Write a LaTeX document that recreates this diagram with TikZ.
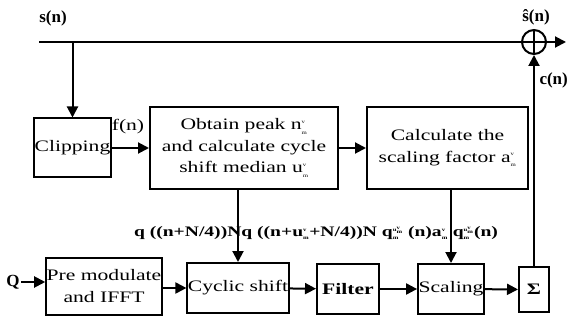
\documentclass[tikz,border=0pt]{standalone}
\usepackage{fontspec}
\setmainfont{Liberation Serif}[FakeStretch=1.35]
\newfontfamily\lblfont{Liberation Serif}
\usetikzlibrary{arrows.meta}
\newcommand{\ms}[2]{\ensuremath{_{\mbox{\tiny #1}}^{\mbox{\tiny #2}}}}

\begin{document}
\begin{tikzpicture}[x=1pt,y=1pt,
  every node/.style={font=\fontsize{16}{21.5}\selectfont},
  blk/.style={draw, line width=2pt, align=center, inner sep=0.5pt},
  lbl/.style={font=\fontsize{17}{20}\lblfont\bfseries, inner sep=0.5pt},
  >={Triangle[length=11pt,width=11pt]}, line width=2pt]
\useasboundingbox (0,0) rectangle (569,324);

% upper row
\node[blk, minimum width=71, minimum height=59] (clip) at (72.5,176) {Clipping};
\node[blk, minimum width=188, minimum height=81] (obtain) at (244,176)
  {Obtain peak n\ms{m}{v}\\and calculate cycle\\shift median u\ms{m}{v}};
\node[blk, minimum width=161, minimum height=82] (calc) at (447.5,176)
  {Calculate the\\scaling factor a\ms{m}{v}};

% lower row
\node[lbl] (q) at (13,42) {Q};
\node[blk, minimum width=106, minimum height=57] (pre) at (104,38) {Pre modulate\\and IFFT};
\node[blk, minimum width=98, minimum height=50] (cyc) at (238,36) {Cyclic shift};
\node[blk, minimum width=62, minimum height=50, font=\fontsize{16}{21}\selectfont\bfseries] (filt) at (348,35) {Filter};
\node[blk, minimum width=64, minimum height=50] (scal) at (451,35) {Scaling};
\node[blk, minimum width=30, minimum height=45, font=\fontsize{16}{21}\selectfont\bfseries] (sum) at (534,34.5) {Σ};

% adder
\node[draw, circle, line width=2pt, minimum size=24, inner sep=0pt,
  path picture={\draw[line width=2pt] (path picture bounding box.north) -- (path picture bounding box.south)
    (path picture bounding box.west) -- (path picture bounding box.east);}] (add) at (534,282) {};

% signal line
\coordinate (sin) at (39,282);
\coordinate (sout) at (566,282);
\draw (sin) -- (add.west);
\draw[->] (add.east) -- (sout);
\draw[->] (clip.north |- sin) -- (clip.north);

\node[lbl] at (53,306) {s(n)};
\node[lbl] at (536,307) {ŝ(n)};
\node[lbl, anchor=west] at (538,244) {c(n)};
\node at (128,197) {f(n)};

% connectors
\draw[->] (clip) -- (obtain);
\draw[->] (obtain) -- (calc);
\draw[->] (q.east) -- (q.east -| pre.west);
\draw[->] (pre.east |- cyc) -- (cyc.west);
\draw[->] (cyc) -- (filt);
\draw[->] (filt) -- (scal);
\draw[->] (scal) -- (sum);
\draw[->] (sum) -- (add);

\node[font=\fontsize{14.5}{18}\selectfont\bfseries] (eq) at (316,91)
  {q ((n+N/4))Nq ((n+u\ms{m}{v}+N/4))N q\ms{m}{u\ms{m}{v}} (n)a\ms{m}{v} q\ms{m}{u\ms{m}{v}}(n)};
\draw[->] (obtain.south -| cyc.north) -- (cyc.north);
\draw[->] (calc.south -| scal.north) -- (scal.north);
\end{tikzpicture}
\end{document}
